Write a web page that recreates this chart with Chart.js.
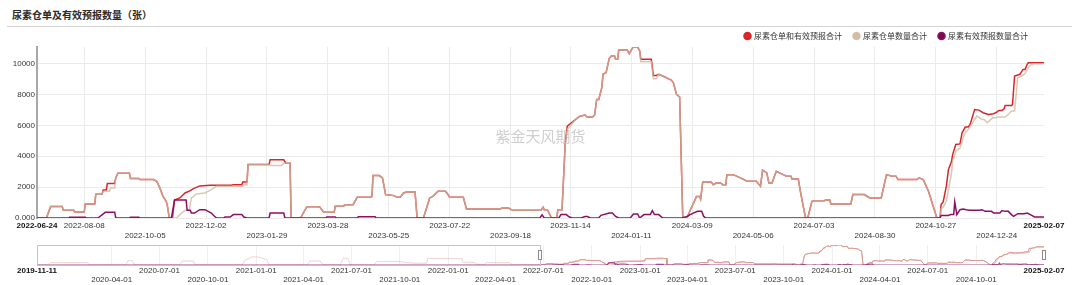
<!DOCTYPE html>
<html>
<head>
<meta charset="utf-8">
<script src="https://cdn.jsdelivr.net/npm/chart.js@4.4.1/dist/chart.umd.min.js"></script>
<style>
  body { margin: 0; width: 1080px; height: 285px; background: #fff; position: relative; overflow: hidden; }
  #title { position: absolute; left: 12px; top: 7px; font: 700 10px "Noto Sans CJK SC", sans-serif; color: #2a2a2a; }
  #rule { position: absolute; left: 7px; top: 26px; width: 1065px; height: 1px; background: #d4d4d4; }
  #mainBox { position: absolute; left: 0; top: 17px; width: 1080px; height: 227px; }
  #navBox { position: absolute; left: 0; top: 241px; width: 1080px; height: 44px; }
</style>
</head>
<body>
<div id="title">尿素仓单及有效预报数量（张）</div>
<div id="rule"></div>
<div id="mainBox"><canvas id="ureaMainChart"></canvas></div>
<div id="navBox"><canvas id="ureaNavChart"></canvas></div>
<script>
// tick labels
const mainTickDates = ['2022-06-24', '2022-08-08', '2022-10-05', '2022-12-02', '2023-01-29', '2023-03-28', '2023-05-25',
  '2023-07-22', '2023-09-18', '2023-11-14', '2024-01-11', '2024-03-09', '2024-05-06', '2024-07-03', '2024-08-30',
  '2024-10-27', '2024-12-24', '2025-02-07'];
const navTickDates = ['2019-11-11', '2020-04-01', '2020-07-01', '2020-10-01', '2021-01-01', '2021-04-01', '2021-07-01',
  '2021-10-01', '2022-01-01', '2022-04-01', '2022-07-01', '2022-10-01', '2023-01-01', '2023-04-01', '2023-07-01',
  '2023-10-01', '2024-01-01', '2024-04-01', '2024-07-01', '2024-10-01', '2025-02-07'];
const yTicks = [0, 2000, 4000, 6000, 8000, 10000];
const yTickLabels = ['0.000', '2000', '4000', '6000', '8000', '10000'];

// 尿素仓单和有效预报合计
const totalDates = ['2022-06-24', '2022-07-03', '2022-07-07', '2022-07-18', '2022-07-19', '2022-07-29', '2022-07-30',
  '2022-08-08', '2022-08-09', '2022-08-18', '2022-08-19', '2022-08-25', '2022-08-26', '2022-08-29', '2022-08-30',
  '2022-09-06', '2022-09-07', '2022-09-09', '2022-09-20', '2022-09-21', '2022-09-29', '2022-09-30', '2022-10-13',
  '2022-10-16', '2022-10-19', '2022-10-22', '2022-10-25', '2022-10-26', '2022-10-28', '2022-10-31', '2022-11-02',
  '2022-11-07', '2022-11-12', '2022-11-17', '2022-11-20', '2022-11-26', '2022-12-06', '2022-12-26', '2022-12-28',
  '2023-01-05', '2023-01-06', '2023-01-10', '2023-01-11', '2023-01-31', '2023-02-01', '2023-02-14', '2023-02-16',
  '2023-02-20', '2023-02-21', '2023-03-02', '2023-03-08', '2023-03-20', '2023-03-24', '2023-04-03', '2023-04-04',
  '2023-04-12', '2023-04-13', '2023-04-21', '2023-04-25', '2023-05-07', '2023-05-09', '2023-05-10', '2023-05-16',
  '2023-05-19', '2023-05-22', '2023-05-30', '2023-06-02', '2023-06-05', '2023-06-08', '2023-06-11', '2023-06-19',
  '2023-06-21', '2023-06-27', '2023-07-03', '2023-07-06', '2023-07-11', '2023-07-18', '2023-07-20', '2023-07-22',
  '2023-08-04', '2023-08-07', '2023-09-08', '2023-09-10', '2023-09-16', '2023-09-20', '2023-10-17', '2023-10-19',
  '2023-10-20', '2023-10-23', '2023-10-27', '2023-11-01', '2023-11-02', '2023-11-06', '2023-11-09', '2023-11-11',
  '2023-11-15', '2023-11-19', '2023-11-23', '2023-11-28', '2023-11-30', '2023-12-05', '2023-12-07', '2023-12-09',
  '2023-12-11', '2023-12-14', '2023-12-15', '2023-12-18', '2023-12-21', '2023-12-23', '2023-12-26', '2023-12-27',
  '2023-12-29', '2023-12-30', '2024-01-07', '2024-01-09', '2024-01-11', '2024-01-13', '2024-01-17', '2024-01-19',
  '2024-01-20', '2024-01-30', '2024-02-01', '2024-02-04', '2024-02-06', '2024-02-10', '2024-02-18', '2024-02-20',
  '2024-02-23', '2024-02-26', '2024-02-29', '2024-03-04', '2024-03-06', '2024-03-08', '2024-03-11', '2024-03-13',
  '2024-03-16', '2024-03-17', '2024-03-19', '2024-03-27', '2024-03-29', '2024-04-01', '2024-04-05', '2024-04-07',
  '2024-04-10', '2024-04-11', '2024-04-17', '2024-04-24', '2024-04-30', '2024-05-09', '2024-05-13', '2024-05-15',
  '2024-05-19', '2024-05-21', '2024-05-24', '2024-05-28', '2024-06-02', '2024-06-07', '2024-06-11', '2024-06-12',
  '2024-06-18', '2024-06-20', '2024-06-23', '2024-06-25', '2024-06-27', '2024-07-01', '2024-07-03', '2024-07-13',
  '2024-07-14', '2024-07-18', '2024-07-19', '2024-08-07', '2024-08-09', '2024-08-20', '2024-08-25', '2024-09-05',
  '2024-09-10', '2024-09-15', '2024-09-19', '2024-09-21', '2024-10-09', '2024-10-11', '2024-10-15', '2024-10-20',
  '2024-10-24', '2024-10-28', '2024-10-31', '2024-11-01', '2024-11-03', '2024-11-05', '2024-11-06', '2024-11-08',
  '2024-11-11', '2024-11-12', '2024-11-15', '2024-11-19', '2024-11-21', '2024-11-24', '2024-11-27', '2024-11-29',
  '2024-12-01', '2024-12-03', '2024-12-07', '2024-12-11', '2024-12-16', '2024-12-21', '2024-12-24', '2024-12-26',
  '2024-12-29', '2024-12-31', '2025-01-01', '2025-01-07', '2025-01-08', '2025-01-10', '2025-01-15', '2025-01-18',
  '2025-01-20', '2025-01-22', '2025-01-23', '2025-02-07'];
const totalVals = [0, 0, 750, 750, 500, 500, 390,
  390, 910, 910, 1540, 1540, 1820, 1820, 2230,
  2230, 2600, 2900, 2900, 2560, 2560, 2490, 2490,
  2380, 1950, 1400, 1080, 870, 0, 0, 1170,
  1300, 1620, 1775, 1900, 2080, 2120, 2120, 2160,
  2160, 2340, 2340, 3460, 3460, 3770, 3770, 3550,
  3550, 0, 0, 735, 735, 370, 370, 760,
  760, 865, 865, 1340, 1340, 1400, 2750, 2750,
  2600, 1515, 1450, 1340, 1340, 1620, 1690, 1690,
  0, 0, 1300, 1400, 1730, 1730, 1560, 1340,
  1340, 585, 585, 650, 650, 500, 500, 690,
  540, 540, 0, 0, 540, 540, 4760, 5950,
  6170, 6390, 6600, 6670, 6540, 6540, 6670, 7680,
  7680, 8480, 9310, 9420, 10350, 10500, 10500, 10280,
  10280, 10890, 10890, 10650, 10890, 11080, 11080, 10820,
  10280, 10280, 9240, 9240, 9310, 9200, 8940, 8770,
  8010, 7840, 0, 0, 320, 650, 1080, 1400,
  1400, 1230, 2340, 2340, 2160, 2270, 2270, 2160,
  2160, 2810, 2810, 2600, 2380, 2380, 2060, 3100,
  2920, 2270, 2270, 3030, 2860, 2710, 2710, 2530,
  2530, 1730, 650, 0, 0, 1080, 1120, 1120,
  1170, 1170, 910, 910, 1515, 1515, 1300, 1300,
  2810, 2710, 2710, 2490, 2490, 2600, 2490, 1730,
  865, 0, 0, 865, 1040, 1730, 2060, 3140,
  3680, 4110, 4760, 4800, 5520, 5890, 5890, 6130,
  6600, 7030, 6990, 6820, 6710, 6760, 6860, 6970,
  6970, 7080, 7290, 7290, 7350, 9200, 9310, 9630,
  9630, 9960, 10060, 10060];

// 尿素仓单数量合计
const warrantDates = ['2022-06-24', '2022-07-03', '2022-07-07', '2022-07-18', '2022-07-19', '2022-07-29', '2022-07-30',
  '2022-08-08', '2022-08-09', '2022-08-18', '2022-08-19', '2022-08-25', '2022-08-26', '2022-09-01', '2022-09-02',
  '2022-09-06', '2022-09-07', '2022-09-09', '2022-09-20', '2022-09-21', '2022-09-29', '2022-09-30', '2022-10-13',
  '2022-10-16', '2022-10-19', '2022-10-22', '2022-10-25', '2022-10-26', '2022-10-28', '2022-11-04', '2022-11-07',
  '2022-11-12', '2022-11-16', '2022-11-18', '2022-11-23', '2022-12-01', '2022-12-07', '2022-12-12', '2023-01-06',
  '2023-01-07', '2023-01-10', '2023-01-11', '2023-01-31', '2023-02-01', '2023-02-12', '2023-02-14', '2023-02-20',
  '2023-02-21', '2023-03-02', '2023-03-08', '2023-03-20', '2023-03-24', '2023-04-03', '2023-04-04', '2023-04-12',
  '2023-04-13', '2023-04-21', '2023-04-25', '2023-05-07', '2023-05-09', '2023-05-10', '2023-05-16', '2023-05-19',
  '2023-05-22', '2023-05-30', '2023-06-02', '2023-06-05', '2023-06-08', '2023-06-11', '2023-06-19', '2023-06-21',
  '2023-06-27', '2023-07-03', '2023-07-06', '2023-07-11', '2023-07-18', '2023-07-20', '2023-07-22', '2023-08-04',
  '2023-08-07', '2023-09-08', '2023-09-10', '2023-09-16', '2023-09-20', '2023-10-17', '2023-10-19', '2023-10-20',
  '2023-10-23', '2023-10-27', '2023-11-01', '2023-11-02', '2023-11-06', '2023-11-09', '2023-11-11', '2023-11-15',
  '2023-11-19', '2023-11-23', '2023-11-28', '2023-11-30', '2023-12-05', '2023-12-07', '2023-12-09', '2023-12-11',
  '2023-12-14', '2023-12-15', '2023-12-18', '2023-12-21', '2023-12-23', '2023-12-26', '2023-12-27', '2023-12-29',
  '2023-12-30', '2024-01-07', '2024-01-09', '2024-01-11', '2024-01-13', '2024-01-17', '2024-01-19', '2024-01-20',
  '2024-01-30', '2024-02-01', '2024-02-04', '2024-02-06', '2024-02-10', '2024-02-18', '2024-02-20', '2024-02-23',
  '2024-02-26', '2024-02-29', '2024-03-04', '2024-03-06', '2024-03-08', '2024-03-11', '2024-03-13', '2024-03-16',
  '2024-03-17', '2024-03-19', '2024-03-27', '2024-03-29', '2024-04-01', '2024-04-05', '2024-04-07', '2024-04-10',
  '2024-04-11', '2024-04-17', '2024-04-24', '2024-04-30', '2024-05-09', '2024-05-13', '2024-05-15', '2024-05-19',
  '2024-05-21', '2024-05-24', '2024-05-28', '2024-06-02', '2024-06-07', '2024-06-11', '2024-06-12', '2024-06-18',
  '2024-06-20', '2024-06-23', '2024-06-25', '2024-06-27', '2024-07-01', '2024-07-03', '2024-07-13', '2024-07-14',
  '2024-07-18', '2024-07-19', '2024-08-07', '2024-08-09', '2024-08-20', '2024-08-25', '2024-09-05', '2024-09-10',
  '2024-09-15', '2024-09-19', '2024-09-21', '2024-10-09', '2024-10-11', '2024-10-15', '2024-10-20', '2024-10-24',
  '2024-10-28', '2024-10-31', '2024-11-01', '2024-11-03', '2024-11-06', '2024-11-09', '2024-11-11', '2024-11-12',
  '2024-11-15', '2024-11-19', '2024-11-22', '2024-11-24', '2024-11-27', '2024-12-02', '2024-12-05', '2024-12-10',
  '2024-12-12', '2024-12-15', '2024-12-20', '2024-12-23', '2024-12-25', '2025-01-01', '2025-01-04', '2025-01-07',
  '2025-01-10', '2025-01-13', '2025-01-17', '2025-01-20', '2025-01-22', '2025-01-25', '2025-01-28', '2025-02-07'];
const warrantVals = [0, 0, 750, 750, 500, 500, 390,
  390, 910, 910, 1540, 1540, 1730, 1730, 1950,
  1950, 2600, 2900, 2900, 2560, 2560, 2490, 2490,
  2380, 1950, 1400, 1080, 870, 0, 0, 216,
  500, 500, 1300, 1560, 1620, 1840, 2060, 2060,
  2160, 2160, 3460, 3460, 3400, 3400, 3550, 3550,
  0, 0, 735, 735, 370, 370, 760, 760,
  865, 865, 1340, 1340, 1400, 2750, 2750, 2600,
  1515, 1450, 1340, 1340, 1620, 1690, 1690, 0,
  0, 1300, 1400, 1730, 1730, 1560, 1340, 1340,
  585, 585, 650, 650, 500, 500, 690, 540,
  540, 0, 0, 540, 540, 4760, 5740, 6060,
  6390, 6600, 6670, 6540, 6540, 6670, 7680, 7680,
  8480, 9310, 9420, 10350, 10500, 10500, 10280, 10280,
  10890, 10890, 10650, 10890, 11080, 11080, 10820, 10130,
  10130, 9030, 9030, 9310, 9200, 8940, 8770, 8010,
  7840, 0, 0, 320, 650, 1080, 1400, 1400,
  1230, 2340, 2340, 2160, 2270, 2270, 2160, 2160,
  2810, 2810, 2600, 2380, 2380, 2060, 3100, 2920,
  2270, 2270, 3030, 2860, 2710, 2710, 2530, 2530,
  1730, 650, 0, 0, 1080, 1120, 1120, 1170,
  1170, 910, 910, 1515, 1515, 1300, 1300, 2810,
  2710, 2710, 2490, 2490, 2600, 2490, 1730, 865,
  0, 0, 600, 700, 1080, 2160, 2920, 3680,
  4330, 4540, 5200, 5520, 5740, 6280, 6600, 6390,
  6390, 6170, 6490, 6490, 6540, 6540, 6710, 6930,
  6930, 9090, 9200, 9370, 9630, 9910, 10000, 10000];

// 尿素有效预报数量合计
const forecastDates = ['2022-06-24', '2022-07-24', '2022-07-25', '2022-08-09', '2022-08-10', '2022-08-21', '2022-08-28',
  '2022-09-06', '2022-09-07', '2022-09-20', '2022-09-21', '2022-09-29', '2022-09-30', '2022-10-30', '2022-11-02',
  '2022-11-13', '2022-11-14', '2022-11-17', '2022-11-18', '2022-11-21', '2022-11-26', '2022-12-01', '2022-12-07',
  '2022-12-10', '2022-12-12', '2022-12-19', '2022-12-20', '2022-12-25', '2022-12-28', '2023-01-05', '2023-01-07',
  '2023-01-10', '2023-01-31', '2023-02-01', '2023-02-14', '2023-02-15', '2023-03-26', '2023-03-27', '2023-04-04',
  '2023-04-05', '2023-04-25', '2023-04-26', '2023-05-12', '2023-05-13', '2023-10-16', '2023-10-18', '2023-10-20',
  '2023-11-03', '2023-11-05', '2023-11-10', '2023-11-13', '2023-11-16', '2023-11-24', '2023-11-28', '2023-11-30',
  '2023-12-03', '2023-12-11', '2023-12-13', '2023-12-21', '2023-12-24', '2023-12-27', '2023-12-30', '2024-01-10',
  '2024-01-13', '2024-01-17', '2024-01-19', '2024-01-23', '2024-01-29', '2024-01-31', '2024-02-02', '2024-02-06',
  '2024-02-10', '2024-02-28', '2024-03-04', '2024-03-07', '2024-03-10', '2024-03-14', '2024-03-18', '2024-03-20',
  '2024-03-22', '2024-10-31', '2024-11-01', '2024-11-08', '2024-11-10', '2024-11-13', '2024-11-14', '2024-11-16',
  '2024-11-19', '2024-11-22', '2024-11-25', '2024-11-28', '2024-12-07', '2024-12-10', '2024-12-13', '2024-12-19',
  '2024-12-21', '2024-12-27', '2024-12-29', '2025-01-01', '2025-01-04', '2025-01-07', '2025-01-09', '2025-01-13',
  '2025-01-19', '2025-01-22', '2025-01-25', '2025-01-29', '2025-02-07'];
const forecastVals = [0, 0, 50, 50, 0, 0, 370,
  370, 0, 0, 50, 50, 0, 0, 1170,
  1170, 500, 500, 320, 320, 540, 540, 320,
  110, 0, 0, 60, 60, 220, 220, 60,
  0, 0, 320, 320, 0, 0, 60, 60,
  0, 0, 80, 80, 0, 0, 200, 0,
  0, 220, 220, 60, 0, 0, 100, 100,
  0, 0, 170, 320, 320, 100, 0, 0,
  260, 260, 0, 220, 220, 480, 220, 220,
  0, 0, 100, 220, 320, 430, 430, 100,
  0, 0, 170, 170, 220, 220, 1040, 220,
  540, 585, 540, 500, 500, 540, 430, 430,
  320, 320, 480, 430, 430, 220, 110, 280,
  280, 320, 220, 65, 65];

// earlier history, only shown in the navigator
const histDates = ['2019-11-11', '2019-12-01', '2019-12-06', '2020-02-14', '2020-02-20', '2020-04-28', '2020-05-02',
  '2020-05-10', '2020-05-15', '2020-08-08', '2020-08-13', '2020-09-03', '2020-09-08', '2020-12-05', '2020-12-10',
  '2020-12-25', '2021-01-05', '2021-01-21', '2021-01-26', '2021-04-08', '2021-04-13', '2021-05-03', '2021-05-08',
  '2021-06-10', '2021-06-15', '2021-06-24', '2021-06-29', '2021-08-13', '2021-08-18', '2021-10-01', '2021-10-26',
  '2021-11-21', '2021-11-23', '2022-01-27', '2022-01-29', '2022-02-21', '2022-02-26', '2022-03-10', '2022-03-15',
  '2022-04-28', '2022-05-03', '2022-06-23'];
const histTotal = [0, 0, 1300, 1300, 0, 0, 2400,
  2400, 0, 0, 2200, 2200, 0, 0, 2500,
  4600, 4400, 3000, 0, 0, 2200, 2200, 0,
  0, 3700, 3700, 0, 0, 1900, 1900, 1000,
  1000, 3700, 3500, 1500, 1500, 0, 0, 1300,
  1300, 0, 0];
const histForecastDates = ['2019-11-11', '2022-06-23'];
const histForecast = [0, 0];

function dayNum(s) {
  const p = s.split('-').map(Number);
  return Date.UTC(p[0], p[1] - 1, p[2]) / 86400000;
}

function toPoints(dates, vals) {
  return dates.map((s, i) => ({ x: dayNum(s), y: vals[i] }));
}

const tickFamily = '"Liberation Sans", Arial, sans-serif';
const cjkFamily = '"Noto Sans CJK SC", sans-serif';
const maxTotal = Math.max(...totalVals);
const selStart = dayNum(totalDates[0]);
const selEnd = dayNum(totalDates[totalDates.length - 1]);

// watermark in the middle of the plot
const watermark = {
  id: 'watermark',
  beforeDatasetsDraw(chart) {
    const a = chart.chartArea;
    const ctx = chart.ctx;
    ctx.save();
    ctx.font = '15px ' + cjkFamily;
    ctx.fillStyle = '#cfcfcf';
    ctx.textAlign = 'center';
    ctx.textBaseline = 'middle';
    ctx.fillText('紫金天风期货', (a.left + a.right) / 2, (a.top + a.bottom) / 2 + 4);
    ctx.restore();
  }
};

// nudge the legend a little closer to the plot
const legendNudge = {
  id: 'legendNudge',
  afterLayout(chart) {
    const lg = chart.legend;
    if (!lg) return;
    lg.top += 3;
    lg.bottom += 3;
    lg.left -= 4;
    lg.right -= 4;
  }
};

// Main chart
const mainLast = mainTickDates.length - 1;
const ureaMainChart = new Chart(document.getElementById('ureaMainChart'), {
  type: 'line',
  data: {
    datasets: [{
      label: '尿素仓单和有效预报合计',
      data: toPoints(totalDates, totalVals),
      borderColor: '#d9262b',
      backgroundColor: '#d9262b',
      borderWidth: 1.5,
      pointRadius: 0,
      order: 3
    }, {
      label: '尿素仓单数量合计',
      data: toPoints(warrantDates, warrantVals),
      borderColor: 'rgba(208,184,160,0.78)',
      backgroundColor: '#d3bfa8',
      borderWidth: 1.5,
      pointRadius: 0,
      order: 2
    }, {
      label: '尿素有效预报数量合计',
      data: toPoints(forecastDates, forecastVals),
      borderColor: '#8a1063',
      backgroundColor: '#7a0a50',
      borderWidth: 1.5,
      pointRadius: 0,
      order: 1
    }]
  },
  options: {
    responsive: true,
    maintainAspectRatio: false,
    animation: false,
    layout: { padding: { left: 0, right: 36, top: 0, bottom: 0 } },
    plugins: {
      tooltip: { enabled: false },
      legend: {
        position: 'top',
        align: 'end',
        labels: {
          usePointStyle: true,
          pointStyle: 'circle',
          boxWidth: 5,
          boxHeight: 5,
          padding: 12,
          color: '#333',
          font: { family: cjkFamily, size: 8 },
          sort: (a, b) => a.datasetIndex - b.datasetIndex
        }
      }
    },
    scales: {
      x: {
        type: 'linear',
        min: selStart,
        max: selEnd,
        afterBuildTicks: (scale) => {
          scale.ticks = mainTickDates.map(s => ({ value: dayNum(s) }));
        },
        border: { display: false },
        grid: {
          drawTicks: false,
          color: (ctx) => (ctx.index === 0 || ctx.index === mainLast) ? 'rgba(0,0,0,0)' : '#ebebeb'
        },
        ticks: {
          autoSkip: false,
          maxRotation: 0,
          minRotation: 0,
          padding: 3,
          color: (ctx) => (ctx.index === 0 || ctx.index === mainLast) ? '#111' : '#333',
          font: (ctx) => ({
            family: tickFamily,
            size: 8,
            lineHeight: 1.25,
            weight: (ctx.index === 0 || ctx.index === mainLast) ? 'bold' : 'normal'
          }),
          callback: (value, index) => {
            const s = mainTickDates[index];
            return (index >= 2 && index % 2 === 0 && index !== mainLast) ? ['', s] : s;
          }
        }
      },
      y: {
        min: 0,
        max: maxTotal,
        afterBuildTicks: (scale) => {
          scale.ticks = yTicks.map(v => ({ value: v }));
        },
        afterFit: (scale) => { scale.width = 37; },
        border: { display: true, color: '#a8a8a8', width: 2 },
        grid: { drawTicks: false, color: '#ebebeb' },
        ticks: {
          padding: 2,
          color: '#333',
          font: { family: tickFamily, size: 8 },
          callback: (value, index) => yTickLabels[index]
        }
      }
    }
  },
  plugins: [watermark, legendNudge]
});

// navigator frame and handles
const navFrame = {
  id: 'navFrame',
  afterDatasetsDraw(chart) {
    const a = chart.chartArea;
    const xs = chart.scales.x;
    const ctx = chart.ctx;
    const p0 = xs.getPixelForValue(selStart);
    const p1 = xs.getPixelForValue(selEnd);
    const mid = (a.top + a.bottom) / 2;
    ctx.save();
    ctx.strokeStyle = '#c4c4c4';
    ctx.lineWidth = 1;
    ctx.strokeRect(Math.round(a.left) + 0.5, Math.round(a.top) + 0.5, Math.round(p0 - a.left), Math.round(a.bottom - a.top));
    ctx.fillStyle = '#fff';
    ctx.strokeStyle = '#8c8c8c';
    [p0, p1].forEach(p => {
      ctx.fillRect(Math.round(p) - 2, Math.round(mid) - 5, 4, 10);
      ctx.strokeRect(Math.round(p) - 1.5, Math.round(mid) - 4.5, 3, 9);
    });
    ctx.restore();
  }
};

function navColor(strong, faint) {
  return (ctx) => ctx.p0.parsed.x < selStart ? faint : strong;
}

// Navigator chart
const navLast = navTickDates.length - 1;
const ureaNavChart = new Chart(document.getElementById('ureaNavChart'), {
  type: 'line',
  data: {
    datasets: [{
      label: '尿素仓单和有效预报合计',
      data: toPoints(histDates, histTotal).concat(toPoints(totalDates, totalVals)),
      borderColor: 'rgba(217,38,43,0.55)',
      segment: { borderColor: navColor('rgba(217,38,43,0.55)', 'rgba(217,38,43,0.12)') },
      borderWidth: 1,
      pointRadius: 0,
      order: 3
    }, {
      label: '尿素仓单数量合计',
      data: toPoints(histDates, histTotal).concat(toPoints(warrantDates, warrantVals)),
      borderColor: 'rgba(208,184,160,0.7)',
      segment: { borderColor: navColor('rgba(208,170,150,0.7)', 'rgba(208,170,150,0.25)') },
      borderWidth: 1,
      pointRadius: 0,
      order: 2
    }, {
      label: '尿素有效预报数量合计',
      data: toPoints(histForecastDates, histForecast).concat(toPoints(forecastDates, forecastVals)),
      borderColor: 'rgba(138,16,99,0.75)',
      borderWidth: 1.2,
      pointRadius: 0,
      order: 1
    }]
  },
  options: {
    responsive: true,
    maintainAspectRatio: false,
    animation: false,
    layout: { padding: { left: 37, right: 36, top: 4, bottom: 0 } },
    plugins: { legend: { display: false }, tooltip: { enabled: false } },
    scales: {
      x: {
        type: 'linear',
        min: dayNum(navTickDates[0]),
        max: dayNum(navTickDates[navLast]),
        afterBuildTicks: (scale) => {
          scale.ticks = navTickDates.map(s => ({ value: dayNum(s) }));
        },
        border: { display: false },
        grid: {
          drawTicks: false,
          color: (ctx) => (ctx.index === 0 || ctx.index === navLast) ? 'rgba(0,0,0,0)' : '#f0f0f0'
        },
        ticks: {
          autoSkip: false,
          maxRotation: 0,
          minRotation: 0,
          padding: 1,
          color: (ctx) => (ctx.index === 0 || ctx.index === navLast) ? '#111' : '#333',
          font: (ctx) => ({
            family: tickFamily,
            size: 8,
            lineHeight: 1.125,
            weight: (ctx.index === 0 || ctx.index === navLast) ? 'bold' : 'normal'
          }),
          callback: (value, index) => {
            const s = navTickDates[index];
            return (index % 2 === 1) ? ['', s] : s;
          }
        }
      },
      y: {
        display: false,
        min: 0,
        max: maxTotal
      }
    }
  },
  plugins: [navFrame]
});
</script>
</body>
</html>
